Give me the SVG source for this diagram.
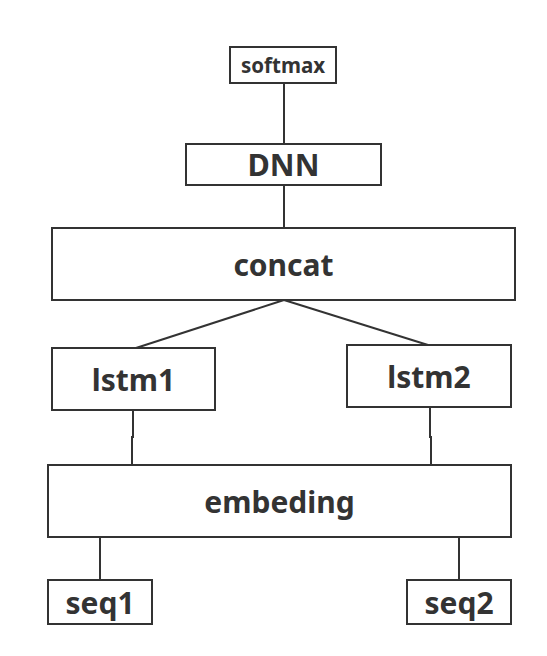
<svg xmlns="http://www.w3.org/2000/svg" width="547" height="656" viewBox="0 0 547 656">
<style>
rect{fill:#fff;stroke:#333;stroke-width:2}
text{font-family:"Noto Sans","Open Sans",sans-serif;font-weight:bold;fill:#333;text-anchor:middle;dominant-baseline:central}
.c line,.c polyline{stroke:#333;stroke-width:2;fill:none}
</style>
<rect x="0" y="0" width="547" height="656" style="stroke:none"/>
<g class="c" id="connectors">
<line x1="284" y1="83" x2="284" y2="144"/>
<line x1="284" y1="185" x2="284" y2="228"/>
<line x1="284" y1="300" x2="136" y2="348"/>
<line x1="284" y1="300" x2="428" y2="345"/>
<polyline points="133,410 133,437 132,437 132,465"/>
<polyline points="430,407 430,437 431,437 431,465"/>
<line x1="100" y1="537" x2="100" y2="580"/>
<line x1="459" y1="537" x2="459" y2="580"/>
</g>
<g id="softmax"><rect x="230" y="47" width="106" height="36"/><text x="283" y="65" font-size="20.5">softmax</text></g>
<g id="dnn"><rect x="186" y="144" width="195" height="41"/><text x="283.5" y="164" font-size="30.5">DNN</text></g>
<g id="concat"><rect x="52" y="228" width="463" height="72"/><text x="283.5" y="264" font-size="30">concat</text></g>
<g id="lstm1"><rect x="52" y="348" width="163" height="62"/><text x="133.5" y="379" font-size="30">lstm1</text></g>
<g id="lstm2"><rect x="347" y="345" width="164" height="62"/><text x="429" y="376" font-size="30">lstm2</text></g>
<g id="embeding"><rect x="48" y="465" width="463" height="72"/><text x="279.5" y="501" font-size="30">embeding</text></g>
<g id="seq1"><rect x="48" y="580" width="104" height="44"/><text x="100" y="602" font-size="30">seq1</text></g>
<g id="seq2"><rect x="407" y="580" width="104" height="44"/><text x="459" y="602" font-size="30">seq2</text></g>
</svg>
